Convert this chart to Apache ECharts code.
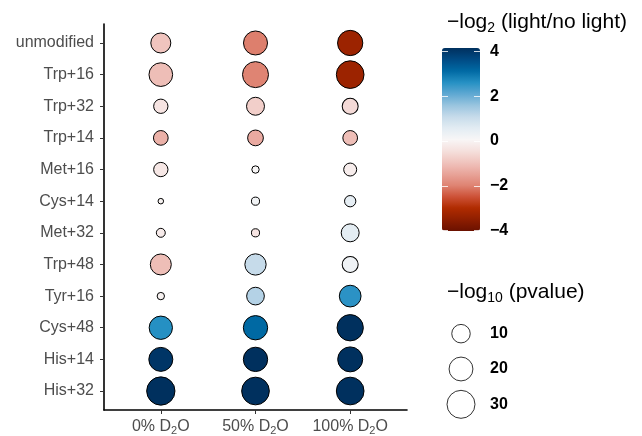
<!DOCTYPE html>
<html>
<head>
<meta charset="utf-8">
<script src="https://cdn.jsdelivr.net/npm/echarts@6/dist/echarts.min.js"></script>
<style>html,body{margin:0;padding:0;background:#fff}#c{width:642px;height:436px}</style>
</head>
<body>
<div id="c"></div>
<script>
// ---- data ----
const conditions = ['0%', '50%', '100%'];
const modifications = ['unmodified', 'Trp+16', 'Trp+32', 'Trp+14', 'Met+16', 'Cys+14',
  'Met+32', 'Trp+48', 'Tyr+16', 'Cys+48', 'His+14', 'His+32'];
// -log2(light/no light)
const log2Ratio0   = [-1.0, -1.1, -0.4, -1.3, -0.35, -0.1, -0.25, -1.1, -0.1, 2.5, 3.9, 4.0];
const log2Ratio50  = [-2.05, -2.0, -0.8, -1.4, 0.0, 0.15, -0.4, 1.0, 1.2, 3.0, 4.0, 4.0];
const log2Ratio100 = [-3.3, -3.3, -0.6, -1.1, -0.2, 0.4, 0.45, 0.2, 2.45, 4.0, 4.0, 4.0];
// -log10(pvalue)
const pval0   = [12.5, 19.6, 4.6, 5.0, 4.6, 0.0, 0.7, 14.2, 0.2, 18.8, 20.3, 30.8];
const pval50  = [20.3, 24.9, 9.2, 6.2, 0.2, 0.4, 0.4, 14.8, 8.8, 21.0, 21.0, 29.2];
const pval100 = [23.2, 29.2, 6.5, 5.0, 3.3, 2.0, 9.2, 6.5, 15.6, 25.7, 22.5, 29.2];
const colorTicks = [-4, -2, 0, 2, 4];
const sizeBreaks = [10, 20, 30];

const log2Ratios = [log2Ratio0, log2Ratio50, log2Ratio100];
const pvals = [pval0, pval50, pval100];

function sizeOf(v) { return 6.53 + 4.10 * Math.sqrt(Math.max(v, 0)) - 1; }

const points = [];
conditions.forEach((c, ci) => {
  modifications.forEach((m, mi) => {
    points.push([ci, mi, log2Ratios[ci][mi], pvals[ci][mi]]);
  });
});

const FONT = '"Liberation Sans", Arial, Helvetica, sans-serif';
const chart = echarts.init(document.getElementById('c'), null, {renderer: 'canvas'});
const idx = (n) => Array.from({length: n}, (_, i) => i);

const titleRich = {
  a: {fontSize: 21, fontFamily: FONT, fontWeight: 'normal', color: '#000', lineHeight: 26},
  s: {fontSize: 14, fontFamily: FONT, fontWeight: 'normal', color: '#000', lineHeight: 26, verticalAlign: 'bottom'}
};

chart.setOption({
  animation: false,
  backgroundColor: '#fff',
  textStyle: {fontFamily: FONT},
  title: [
    {left: 442, top: 4, text: '{a|−log}{s|2}{a| (light/no light)}',
     textStyle: {fontWeight: 'normal', rich: titleRich}},
    {left: 442, top: 274, text: '{a|−log}{s|10}{a| (pvalue)}',
     textStyle: {fontWeight: 'normal', rich: titleRich}}
  ],
  grid: [
    {left: 104, right: 235, top: 24, bottom: 26},
    {left: 442, top: 51.5, width: 38, height: 179},
    {left: 447, top: 316, width: 28, height: 106}
  ],
  xAxis: [
    {
      gridIndex: 0, type: 'value', min: -0.6, max: 2.6,
      axisLine: {show: true, onZero: false, lineStyle: {color: '#000', width: 1.6}},
      axisTick: {show: true, length: 4, lineStyle: {color: '#333'}, customValues: idx(conditions.length)},
      axisLabel: {
        customValues: idx(conditions.length), margin: 8,
        formatter: (v) => '{a|' + conditions[Math.round(v)] + ' D}{s|2}{a|O}',
        rich: {
          a: {fontSize: 16, color: '#4d4d4d', fontFamily: FONT, lineHeight: 18},
          s: {fontSize: 11, color: '#4d4d4d', fontFamily: FONT, lineHeight: 18, verticalAlign: 'bottom'}
        }
      },
      splitLine: {show: false}
    },
    {gridIndex: 1, type: 'value', min: 0, max: 1, show: false},
    {gridIndex: 2, type: 'value', min: 0, max: 1, show: false}
  ],
  yAxis: [
    {
      gridIndex: 0, type: 'value', min: -0.6, max: 11.6, inverse: true,
      axisLine: {show: true, onZero: false, lineStyle: {color: '#000', width: 1.6}},
      axisTick: {show: true, length: 4, lineStyle: {color: '#333'}, customValues: idx(modifications.length)},
      axisLabel: {
        customValues: idx(modifications.length), margin: 10,
        fontSize: 16, color: '#4d4d4d', fontFamily: FONT,
        formatter: (v) => modifications[Math.round(v)]
      },
      splitLine: {show: false}
    },
    {
      gridIndex: 1, type: 'value', min: -4, max: 4, interval: 2, position: 'left', z: 10,
      axisLine: {show: false},
      axisTick: {show: true, inside: true, length: 6, lineStyle: {color: 'rgba(255,255,255,0.8)', width: 1}},
      axisLabel: {show: false}, splitLine: {show: false}
    },
    {
      gridIndex: 1, type: 'value', min: -4, max: 4, interval: 2, position: 'right', z: 10,
      axisLine: {show: false},
      axisTick: {show: true, inside: true, length: 6, lineStyle: {color: 'rgba(255,255,255,0.8)', width: 1}},
      axisLabel: {show: true, margin: 10, fontSize: 16, fontWeight: 'bold', color: '#000', fontFamily: FONT,
        formatter: (v) => (v < 0 ? '−' + Math.abs(v) : String(v))},
      splitLine: {show: false}
    },
    {
      gridIndex: 2, type: 'category', data: sizeBreaks.map(String), inverse: true, position: 'right',
      axisLine: {show: false}, axisTick: {show: false},
      axisLabel: {margin: 15, fontSize: 16, fontWeight: 'bold', color: '#000', fontFamily: FONT}
    }
  ],
  visualMap: {
    type: 'continuous', seriesIndex: 0, dimension: 2, min: -4, max: 4,
    left: 442, top: 48, itemWidth: 38, itemHeight: 183, padding: 0,
    calculable: false, text: null, hoverLink: false,
    inRange: {color: ['#6a1100', '#8e1e00', '#b02b00', '#cd5238', '#df8473', '#e8a49a',
                      '#f0c4be', '#f5e0dd', '#f8f6f6', '#e2ecf3', '#c6dbea', '#98c4df',
                      '#5ea8d2', '#2590c3', '#0069a3', '#004a84', '#00305e']}
  },
  series: [
    {
      type: 'scatter', xAxisIndex: 0, yAxisIndex: 0,
      data: points,
      symbolSize: (d) => sizeOf(d[3]),
      itemStyle: {borderColor: '#000', borderWidth: 1, opacity: 1}
    },
    {
      type: 'scatter', xAxisIndex: 2, yAxisIndex: 3,
      data: sizeBreaks.map((b, i) => [0.5, i, b]),
      symbolSize: (d) => sizeOf(d[2]),
      itemStyle: {color: 'rgba(0,0,0,0)', borderColor: '#000', borderWidth: 1}
    }
  ]
});
</script>
</body>
</html>
